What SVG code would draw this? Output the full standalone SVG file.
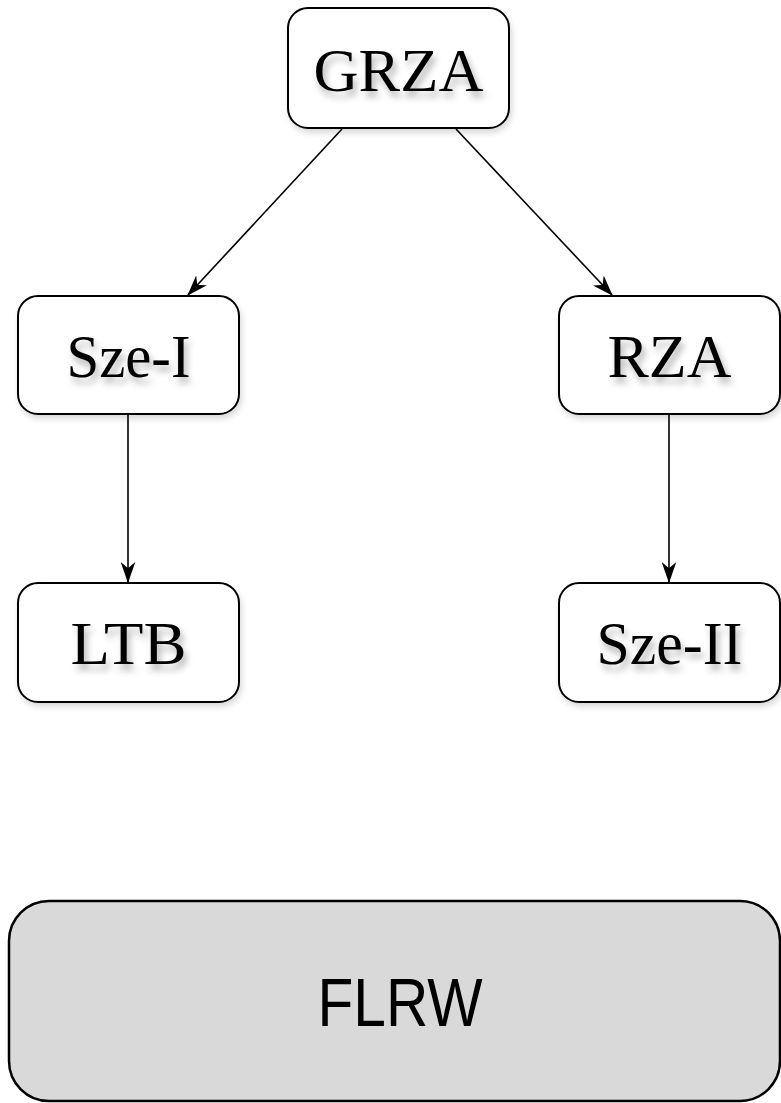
<svg xmlns="http://www.w3.org/2000/svg" width="781" height="1103" viewBox="0 0 781 1103">
<style>
.box{fill:#fff;stroke:#000;stroke-width:2;}
.big{fill:#d9d9d9;stroke:#000;stroke-width:2.5;}
.lbl{font-family:"Liberation Serif","DejaVu Serif",serif;font-size:62px;text-anchor:middle;fill:#000;}
.sans{font-family:"Liberation Sans","Open Sans",sans-serif;font-size:68px;text-anchor:middle;fill:#000;}
.edge{stroke:#000;stroke-width:1.6;fill:none;marker-end:url(#arr);}
</style>
<defs>
<marker id="arr" viewBox="0 0 20 14" refX="19" refY="7" markerWidth="21" markerHeight="15" markerUnits="userSpaceOnUse" orient="auto">
<path d="M0,0 L20,7 L0,14 L6,7 Z" fill="#000"/>
</marker>
<filter id="ts" x="-20%" y="-20%" width="140%" height="160%">
<feGaussianBlur in="SourceAlpha" stdDeviation="3.5"/>
<feOffset dx="3" dy="6" result="b"/>
<feComponentTransfer><feFuncA type="linear" slope="0.3"/></feComponentTransfer>
<feMerge><feMergeNode/><feMergeNode in="SourceGraphic"/></feMerge>
</filter>
<filter id="bs" x="-10%" y="-10%" width="125%" height="130%">
<feGaussianBlur in="SourceAlpha" stdDeviation="3"/>
<feOffset dx="2" dy="4"/>
<feComponentTransfer><feFuncA type="linear" slope="0.15"/></feComponentTransfer>
<feMerge><feMergeNode/><feMergeNode in="SourceGraphic"/></feMerge>
</filter>
</defs>
<rect width="781" height="1103" fill="#fff"/>
<g id="connectors">
<line class="edge" x1="342" y1="129" x2="188" y2="295"/>
<line class="edge" x1="456" y1="129" x2="612" y2="295"/>
<line class="edge" x1="128" y1="415" x2="128" y2="582"/>
<line class="edge" x1="669" y1="415" x2="669" y2="582"/>
</g>
<g id="GRZA">
<rect class="box" filter="url(#bs)" x="288" y="8" width="221" height="120" rx="20"/>
<text class="lbl" filter="url(#ts)" x="398.5" y="91" textLength="170" lengthAdjust="spacingAndGlyphs">GRZA</text>
</g>
<g id="Sze-I">
<rect class="box" filter="url(#bs)" x="18" y="296" width="221" height="118" rx="20"/>
<text class="lbl" filter="url(#ts)" x="128.5" y="377" textLength="124" lengthAdjust="spacingAndGlyphs">Sze-I</text>
</g>
<g id="RZA">
<rect class="box" filter="url(#bs)" x="559" y="296" width="221" height="118" rx="20"/>
<text class="lbl" filter="url(#ts)" x="669.5" y="377" textLength="124" lengthAdjust="spacingAndGlyphs">RZA</text>
</g>
<g id="LTB">
<rect class="box" filter="url(#bs)" x="18" y="583" width="221" height="119" rx="20"/>
<text class="lbl" filter="url(#ts)" x="128.5" y="664" textLength="116" lengthAdjust="spacingAndGlyphs">LTB</text>
</g>
<g id="Sze-II">
<rect class="box" filter="url(#bs)" x="559" y="583" width="221" height="119" rx="20"/>
<text class="lbl" filter="url(#ts)" x="669.5" y="664" textLength="146" lengthAdjust="spacingAndGlyphs">Sze-II</text>
</g>
<g id="FLRW">
<rect class="big" x="9" y="901" width="771" height="200" rx="40"/>
<text class="sans" x="400" y="1026" textLength="165" lengthAdjust="spacingAndGlyphs">FLRW</text>
</g>
</svg>
